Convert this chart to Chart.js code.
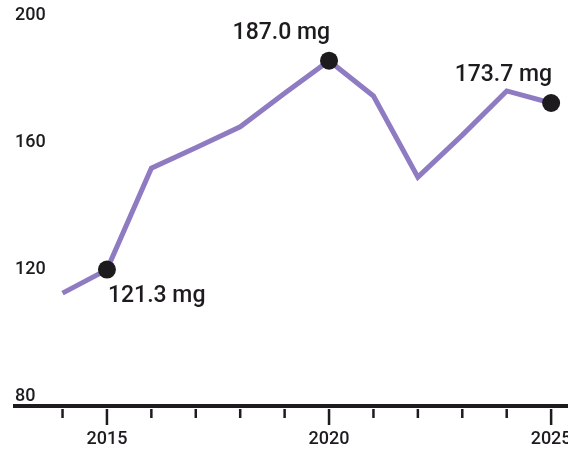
<!DOCTYPE html>
<html><head><meta charset="utf-8">
<script src="https://cdn.jsdelivr.net/npm/chart.js@4/dist/chart.umd.min.js"></script>
<style>html,body{margin:0;padding:0;background:#fff}#wrap{width:568px;height:449px}</style>
</head><body><div id="wrap"><canvas id="c" width="568" height="449"></canvas></div>
<script>
const years = [2014, 2015, 2016, 2017, 2018, 2019, 2020, 2021, 2022, 2023, 2024, 2025];
const values = [113.9, 121.3, 153.2, 159.6, 166.2, 176.8, 187.0, 175.9, 150.4, 163.6, 177.5, 173.7];
const labeledYears = [2015, 2020, 2025];
const annotationTexts = ['121.3 mg', '187.0 mg', '173.7 mg'];
const yTickValues = [80, 120, 160, 200];
const xTickValues = [2015, 2020, 2025];

const FONT = "Roboto, 'Liberation Sans', Arial, sans-serif";
const INK = '#1d1b1e';
const LINE = '#8e7bc1';

const tickMarks = {
  id: 'tickMarks',
  afterDraw(chart) {
    const xs = chart.scales.x, ca = chart.chartArea, ctx = chart.ctx;
    ctx.save();
    ctx.strokeStyle = INK;
    ctx.lineWidth = 2.5;
    years.forEach(yr => {
      const px = xs.getPixelForValue(yr);
      const major = xTickValues.includes(yr);
      ctx.beginPath();
      ctx.moveTo(px, ca.bottom + 3);
      ctx.lineTo(px, ca.bottom + (major ? 19 : 12));
      ctx.stroke();
    });
    ctx.restore();
  }
};

const annotations = {
  id: 'annotations',
  afterDatasetsDraw(chart) {
    const xs = chart.scales.x, ys = chart.scales.y, ctx = chart.ctx;
    ctx.save();
    ctx.fillStyle = INK;
    ctx.font = '500 23px ' + FONT;
    ctx.textBaseline = 'alphabetic';
    labeledYears.forEach((yr, k) => {
      const i = years.indexOf(yr);
      const px = xs.getPixelForValue(yr), py = ys.getPixelForValue(values[i]);
      if (k === 0) { ctx.textAlign = 'left'; ctx.fillText(annotationTexts[k], px + 1, py + 32); }
      else { ctx.textAlign = 'right'; ctx.fillText(annotationTexts[k], px + 1, py - 22); }
    });
    ctx.restore();
  }
};

new Chart(document.getElementById('c'), {
  type: 'line',
  data: {
    datasets: [{
      data: years.map((x, i) => ({ x, y: values[i] })),
      borderColor: LINE,
      borderWidth: 5,
      tension: 0,
      pointRadius: ctx => labeledYears.includes(years[ctx.dataIndex]) ? 9 : 0,
      pointHoverRadius: 0,
      pointBackgroundColor: INK,
      pointBorderWidth: 0
    }]
  },
  options: {
    responsive: false,
    animation: false,
    devicePixelRatio: 1,
    layout: { autoPadding: false, padding: { left: 15, right: 0, top: 0, bottom: 0 } },
    plugins: { legend: { display: false }, tooltip: { enabled: false } },
    scales: {
      x: {
        type: 'linear', min: 2012.93, max: 2025.38,
        afterBuildTicks: s => { s.ticks = xTickValues.map(v => ({ value: v })); },
        afterFit: s => { s.height = 43; s.paddingLeft = 0; s.paddingRight = 0; },
        ticks: { callback: v => String(v), color: INK, font: { family: FONT, size: 18, weight: '500' }, padding: 15, maxRotation: 0, autoSkip: false },
        grid: { display: false },
        border: { display: true, color: INK, width: 4 }
      },
      y: {
        type: 'linear', min: 78.4, max: 206.1,
        afterBuildTicks: s => { s.ticks = yTickValues.map(v => ({ value: v })); },
        afterFit: s => { s.width = 0; s.paddingTop = 0; s.paddingBottom = 0; },
        ticks: { mirror: true, padding: 0, labelOffset: -4, color: INK, font: { family: FONT, size: 18, weight: '500' } },
        grid: { display: false },
        border: { display: false }
      }
    }
  },
  plugins: [tickMarks, annotations]
});
</script></body></html>
